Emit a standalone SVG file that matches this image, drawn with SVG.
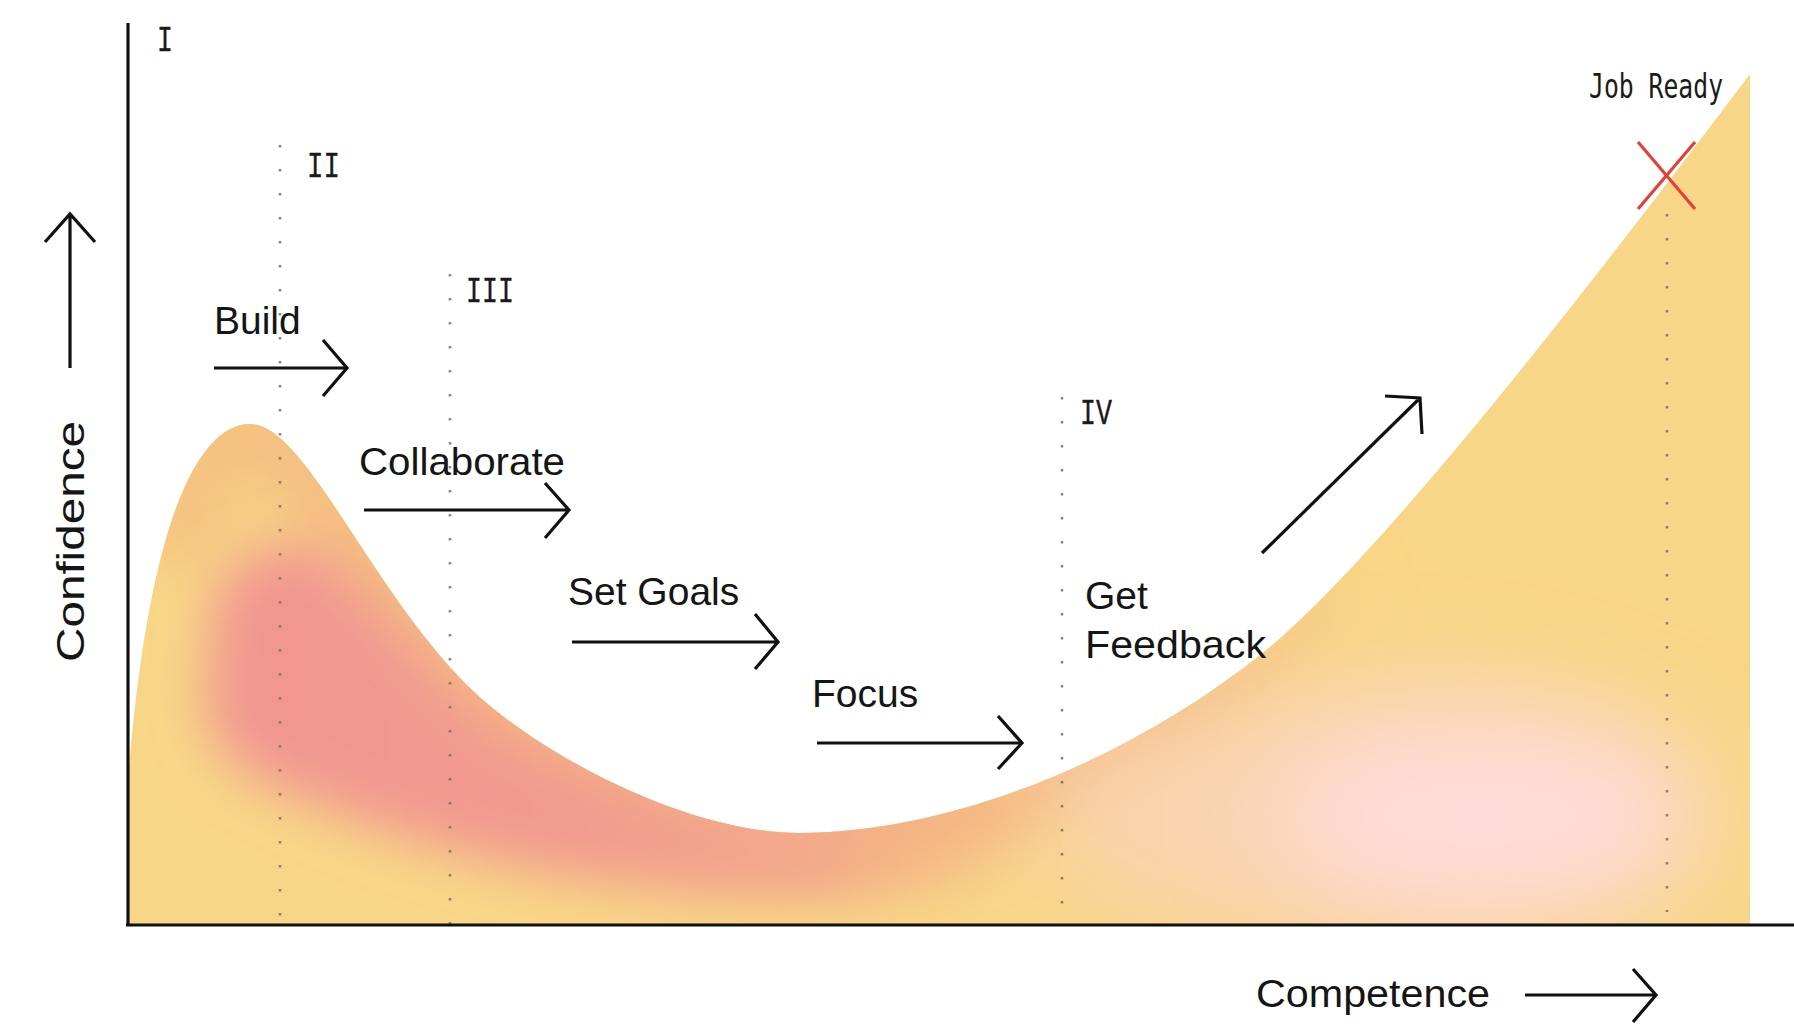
<svg xmlns="http://www.w3.org/2000/svg" width="1794" height="1027" viewBox="0 0 1794 1027">
  <style>
    .lbl { font-family: "Liberation Sans", Arial, sans-serif; font-size: 39px; fill: #151515; }
    .rom { font-family: "Liberation Mono", "DejaVu Sans Mono", monospace; font-size: 37px; fill: #1a1a1a; stroke: #1a1a1a; stroke-width: 0.4; }
    .mono { font-family: "DejaVu Sans Mono", "Liberation Mono", monospace; font-size: 33px; fill: #1a1a1a; }
    .arrow { fill: none; stroke: #111; stroke-width: 3.2; stroke-linecap: butt; stroke-linejoin: miter; }
    .axis { fill: none; stroke: #111; stroke-width: 3.2; }
    .dots { fill: none; stroke: #7f6e60; stroke-width: 2.6; stroke-dasharray: 2.6 21.4; opacity: 0.85; }
  </style>
  <defs>
    <clipPath id="curveClip">
      <path d="M128,924 L128,780 C150,500 205,424 250,424 C305,424 370,590 470,688 C530,747 680,833 800,833 C950,833 1130,760 1264,652 C1390,550 1640,220 1750,74 L1750,924 Z"/>
    </clipPath>
    <filter id="blurA" x="-50%" y="-50%" width="200%" height="200%">
      <feGaussianBlur stdDeviation="26"/>
    </filter>
    <filter id="blurB" x="-50%" y="-50%" width="200%" height="200%">
      <feGaussianBlur stdDeviation="50"/>
    </filter>
    <linearGradient id="pinkGrad" gradientUnits="userSpaceOnUse" x1="200" y1="0" x2="1030" y2="0">
      <stop offset="0" stop-color="#F19592"/>
      <stop offset="0.45" stop-color="#F29A8F"/>
      <stop offset="0.75" stop-color="#F3A88B"/>
      <stop offset="1" stop-color="#F5B886" stop-opacity="0"/>
    </linearGradient>
    <linearGradient id="rimGrad" gradientUnits="userSpaceOnUse" x1="150" y1="0" x2="1380" y2="0">
      <stop offset="0" stop-color="#F5C480"/>
      <stop offset="0.5" stop-color="#F4B083"/>
      <stop offset="0.85" stop-color="#F5BD80"/>
      <stop offset="1" stop-color="#F6C683" stop-opacity="0"/>
    </linearGradient>
  </defs>

  <g id="curve-fill" clip-path="url(#curveClip)">
    <rect x="120" y="60" width="1640" height="870" fill="#F8D687"/>
    <path d="M170,560 C190,460 225,424 250,424 C305,424 370,590 470,688 C530,747 680,833 800,833 C950,833 1130,760 1264,652 C1300,622 1330,596 1360,566" fill="none" stroke="url(#rimGrad)" stroke-width="90" filter="url(#blurA)"/>
    <ellipse cx="1370" cy="815" rx="330" ry="125" fill="#F9D3AF" filter="url(#blurB)"/>
    <ellipse cx="1480" cy="815" rx="210" ry="95" fill="#FEDCD8" filter="url(#blurB)"/>
    <path d="M215,600 C235,550 285,525 335,560 C380,600 420,660 480,712 C560,770 690,812 820,824 C900,828 960,818 1010,808 L1010,885 C900,898 780,902 650,888 C520,874 420,845 330,810 C260,785 215,765 205,705 Z" fill="url(#pinkGrad)" filter="url(#blurA)"/>
  </g>

  <g id="guides">
    <line class="dots" x1="280" y1="145" x2="280" y2="924"/>
    <line class="dots" x1="450" y1="274" x2="450" y2="934"/>
    <line class="dots" x1="1062" y1="397" x2="1062" y2="906"/>
    <line class="dots" x1="1667" y1="214" x2="1667" y2="912"/>
  </g>

  <g id="axes">
    <line class="axis" x1="128" y1="23" x2="128" y2="926"/>
    <line class="axis" x1="126" y1="925" x2="1794" y2="925"/>
  </g>

  <g id="stage-labels">
    <text id="stage-1" class="rom" transform="translate(157,51) scale(0.72,1)">I</text>
    <text id="stage-2" class="rom" transform="translate(307,177) scale(0.74,1)">II</text>
    <text id="stage-3" class="rom" transform="translate(466,302) scale(0.72,1)">III</text>
    <text id="stage-4" class="rom" transform="translate(1080,424) scale(0.72,1)">IV</text>
    <g id="job-ready">
      <text class="mono" transform="translate(1589,98) scale(0.75,1)">Job Ready</text>
      <line x1="1638" y1="142" x2="1695" y2="209" stroke="#E2403A" stroke-width="3.2"/>
      <line x1="1695" y1="142" x2="1638" y2="209" stroke="#E2403A" stroke-width="3.2"/>
    </g>
  </g>

  <g id="node-build">
    <text class="lbl" x="214" y="334">Build</text>
  </g>
  <g id="node-collaborate">
    <text class="lbl" x="359" y="475" textLength="206" lengthAdjust="spacingAndGlyphs">Collaborate</text>
  </g>
  <g id="node-setgoals">
    <text class="lbl" x="568" y="605">Set Goals</text>
  </g>
  <g id="node-focus">
    <text class="lbl" x="812" y="707">Focus</text>
  </g>
  <g id="node-feedback">
    <text class="lbl" x="1085" y="609">Get</text>
    <text class="lbl" x="1085" y="658" textLength="181" lengthAdjust="spacingAndGlyphs">Feedback</text>
  </g>

  <g id="connectors">
    <path class="arrow" d="M214,368 H347 M323,340 L347,368 L323,396"/>
    <path class="arrow" d="M364,510 H569 M545,483 L569,510 L545,538"/>
    <path class="arrow" d="M572,642 H778 M755,614 L778,642 L755,669"/>
    <path class="arrow" d="M817,743 H1022 M998,716 L1022,743 L998,769"/>
    <path class="arrow" d="M1262,553 L1420,398 M1385,396 L1420,398 L1422,434"/>
  </g>

  <g id="axis-labels">
    <text class="lbl" transform="translate(84,662) rotate(-90)" font-size="42" textLength="241" lengthAdjust="spacingAndGlyphs">Confidence</text>
    <path class="arrow" d="M70,368 V214 M45,242 L70,214 L95,242"/>
    <text class="lbl" x="1256" y="1007" font-size="42" textLength="234" lengthAdjust="spacingAndGlyphs">Competence</text>
    <path class="arrow" d="M1525,995 H1656 M1633,969 L1656,995 L1633,1022"/>
  </g>
</svg>
